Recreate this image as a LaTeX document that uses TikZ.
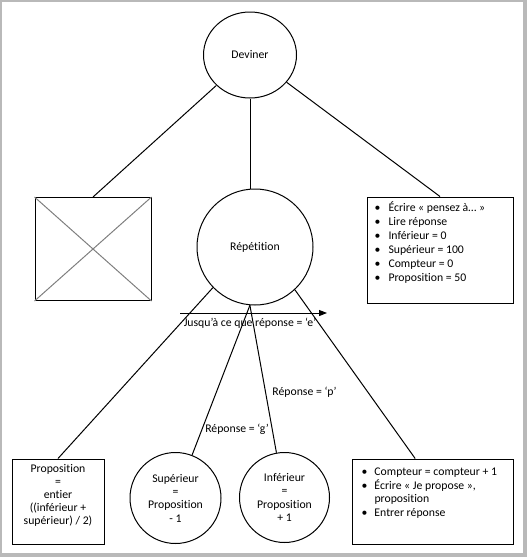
\documentclass[tikz,border=0pt]{standalone}
\usepackage{fontspec}
\setmainfont{Carlito}[Ligatures=NoCommon]
\usetikzlibrary{shapes.geometric,arrows.meta}
\tikzset{every picture/.style={line width=0.75pt}}

\begin{document}
\begin{tikzpicture}[x=0.75pt,y=0.75pt,yscale=-1,xscale=1,
  font=\fontsize{8.8}{10}\selectfont,
  bubble/.style={draw,circle,inner sep=0pt,align=center},
  plainbox/.style={draw,rectangle,inner sep=0pt},
  txt/.style={inner sep=0pt,align=center}]

%frame of the window
\fill[gray!55] (0,0) rectangle (527,557);
\fill[white] (2,2) rectangle (523,553);

%top module
\node[draw,ellipse,minimum width=69.75pt,minimum height=64.5pt,inner sep=0pt] (dev) at (250,55) {Deviner};

%loop
\node[bubble,minimum size=87pt] (rep) at (255,247) {Répétition};

%empty box with a cross
\node[plainbox,minimum width=87pt,minimum height=77.25pt] (imgbox) at (93,249) {};
\draw[gray] (imgbox.north west) -- (imgbox.south east) (imgbox.north east) -- (imgbox.south west);

%initialisation
\node[plainbox,minimum width=109.5pt,minimum height=79.5pt] (initbox) at (440,250) {};
\node[inner sep=0pt,anchor=north west,font=\fontsize{8.8}{10.5}\selectfont] (inittext) at (374,201) {\begin{tabular}{@{}p{10.5pt}@{}l@{}}
\textbullet & Écrire «~pensez à…~» \\
\textbullet & Lire réponse \\
\textbullet & Inférieur = 0 \\
\textbullet & Supérieur = 100 \\
\textbullet & Compteur = 0 \\
\textbullet & Proposition = 50
\end{tabular}};

%bottom row
\node[plainbox,minimum width=69pt,minimum height=63.75pt] (propbox) at (58,501.5) {};
\node[txt,font=\fontsize{8.8}{9.75}\selectfont] (proptext) at (58,495) {Proposition\\=\\entier\\((inférieur +\\supérieur) / 2)};
\node[bubble,minimum size=68.25pt] (sup) at (175.5,498) {Supérieur\\=\\Proposition\\- 1};
\node[bubble,minimum size=67.5pt] (inf) at (284.5,497.5) {Inférieur\\=\\Proposition\\+ 1};
\node[plainbox,minimum width=120.75pt,minimum height=63.75pt] (actbox) at (432.5,501.5) {};
\node[inner sep=0pt,anchor=north west] (acttext) at (361,466) {\begin{tabular}{@{}p{9.75pt}@{}l@{}}
\textbullet & Compteur = compteur + 1 \\
\textbullet & Écrire «~Je propose~», \\
 & proposition \\
\textbullet & Entrer réponse
\end{tabular}};

%connectors
\draw (dev) -- (imgbox.north);
\draw (dev.south) -- (dev.south |- rep.north);
\draw (dev) -- (initbox.north);
\draw (rep.224) -- (propbox.north);
\draw (rep.265) -- (sup);
\draw (rep.265) -- (inf);
\draw (rep.-47) -- ([xshift=-13pt]actbox.north);

%loop condition
\coordinate (loopa) at (180,313);
\coordinate (loopb) at (327,313);
\draw[-{Triangle[length=6pt,width=4.5pt]}] (loopa) -- (loopb);
\node[txt] (looplabel) at (250,323) {Jusqu’à ce que réponse = ‘e’};
\node[txt] (plabel) at (304.5,392) {Réponse = ‘p’};
\node[txt] (glabel) at (237,429) {Réponse = ‘g’};

\end{tikzpicture}
\end{document}
